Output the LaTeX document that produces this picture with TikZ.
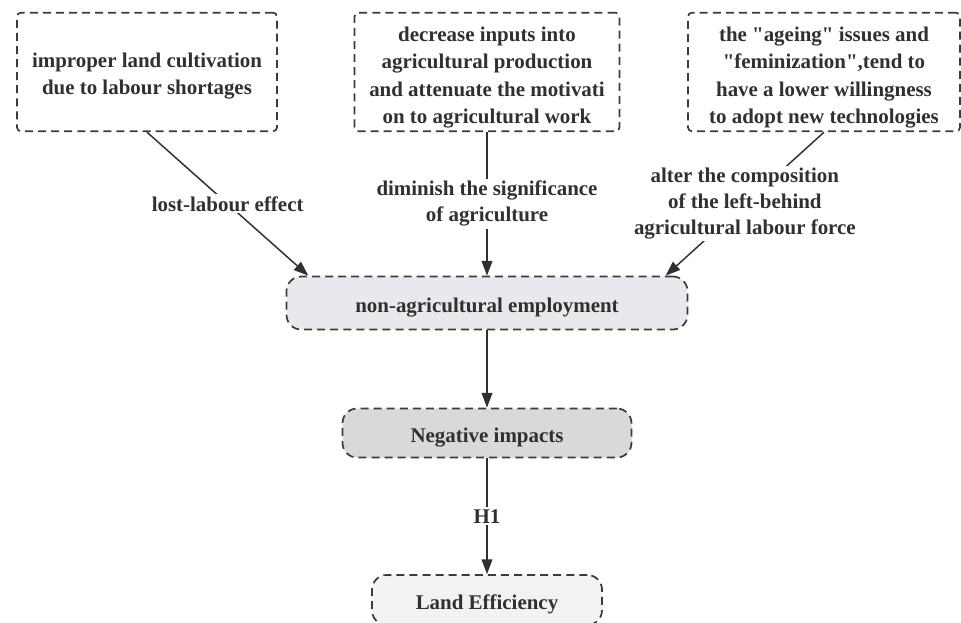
\documentclass[tikz,border=0pt]{standalone}
\usepackage{fontspec}
\setmainfont{LiberationSerif}[Extension=.ttf, UprightFont=*-Regular, BoldFont=*-Bold]
\usetikzlibrary{arrows.meta}

\definecolor{edgeC}{RGB}{55,60,66}
\definecolor{textC}{RGB}{48,48,48}
\definecolor{mainF}{RGB}{231,233,236}
\definecolor{negF}{RGB}{217,217,217}
\definecolor{landF}{RGB}{242,242,242}

\tikzset{
  box/.style={draw=edgeC, line width=1.3pt, dash pattern=on 6pt off 3.8pt,
    text=textC, align=center, inner sep=0pt,
    font=\fontsize{15.7}{20.5}\selectfont\bfseries},
  topbox/.style={box, rounded corners=3pt, minimum height=89pt,
    text depth=0pt, text height=#1},
  midbox/.style={box, rounded corners=11pt,
    execute at begin node={\rule{0pt}{17pt}}},
  arr/.style={draw=textC, line width=1.1pt, -{Triangle[length=11pt,width=8pt]}},
  lbl/.style={fill=white, text=textC, align=center, inner sep=1.5pt,
    font=\fontsize{15.7}{19.5}\selectfont\bfseries}
}

\begin{document}
\begin{tikzpicture}[x=0.75pt, y=-0.75pt]
      \useasboundingbox (0,0) rectangle (961,622);

      \node[topbox=34pt, minimum width=195pt]   (impropN)   at (147,72)  {improper land cultivation\\due to labour shortages};
      \node[topbox=77pt, minimum width=198.75pt] (decreaseN) at (487,72)  {decrease inputs into\\agricultural production\\and attenuate the motivati\\on to agricultural work};
      \node[topbox=77pt, minimum width=204pt]   (ageingN)   at (824,72)  {the \textquotedbl ageing\textquotedbl{} issues and\\\textquotedbl feminization\textquotedbl,tend to\\have a lower willingness\\to adopt new technologies};

      \node[midbox, fill=mainF, minimum width=300.75pt, minimum height=39.75pt] (nonAgrN) at (487,303) {non-agricultural employment};
      \node[midbox, fill=negF, minimum width=216.75pt, minimum height=36.75pt]  (negN)    at (487,433) {Negative impacts};
      \node[midbox, fill=landF, minimum width=172.5pt, minimum height=37.5pt]   (landN)   at (487,600) {Land Efficiency};

      \draw[arr] (impropN.south)   -- node[lbl] (lostL) {lost-labour effect} ([xshift=17pt]nonAgrN.north west);
      \draw[arr] (decreaseN.south) -- node[lbl] (diminL) {diminish the significance\\of agriculture} (nonAgrN.north);
      \draw[arr] (ageingN.south)   -- node[lbl] (alterL) {alter the composition\\of the left-behind\\agricultural labour force} ([xshift=-17pt]nonAgrN.north east);

      \draw[arr] (nonAgrN.south) -- (negN.north);
      \draw[arr] (negN.south)    -- node[lbl] (hL) {H1} (landN.north);
    \end{tikzpicture}
\end{document}
